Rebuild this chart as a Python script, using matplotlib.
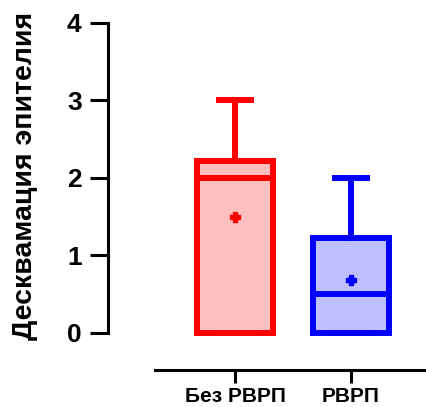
import matplotlib
matplotlib.use("Agg")
import matplotlib.pyplot as plt

categories = ["Без РВРП", "РВРП"]
whislo = [0.0, 0.0]
q1 = [0.0, 0.0]
med = [2.0, 0.5]
q3 = [2.22, 1.22]
whishi = [3.0, 2.0]
means = [1.5, 0.68]
edge_colors = ["#ff0000", "#0000ff"]
fill_colors = ["#ffbfbf", "#bfbfff"]
yticks = [0, 1, 2, 3, 4]

plt.rcParams['font.family'] = ['Liberation Sans', 'DejaVu Sans']
plt.rcParams['font.weight'] = 'bold'

fig = plt.figure(figsize=(4.27, 4.07), dpi=100)
W, H = 427, 407
left_px, right_px, top_px, bottom_px = 108, 427, 23, 370
ax = fig.add_axes([left_px / W, (H - bottom_px) / H, (right_px - left_px) / W, (bottom_px - top_px) / H])

positions = [1, 2]
for i in range(2):
    stats = [dict(whislo=whislo[i], q1=q1[i], med=med[i], q3=q3[i], whishi=whishi[i],
                  mean=means[i], fliers=[], label=categories[i])]
    c = edge_colors[i]
    ax.bxp(stats, positions=[positions[i]], widths=0.66, patch_artist=True,
           showmeans=True, showfliers=False,
           boxprops=dict(facecolor=fill_colors[i], edgecolor=c, linewidth=4.3),
           medianprops=dict(color=c, linewidth=4.3, solid_capstyle='butt'),
           whiskerprops=dict(color=c, linewidth=4.3),
           capprops=dict(color=c, linewidth=4.3, solid_capstyle='butt'),
           capwidths=0.32,
           meanprops=dict(marker='P', markerfacecolor=c, markeredgecolor=c, markersize=7))

ax.set_xlim(-0.095, 2.655)
ax.set_ylim(-0.48, 4.0)
ax.spines['top'].set_visible(False)
ax.spines['right'].set_visible(False)
ax.spines['left'].set_bounds(0, 4)
ax.spines['bottom'].set_bounds(0.31, 2.655)
ax.spines['left'].set_linewidth(2.2)
ax.spines['bottom'].set_linewidth(2.2)
ax.set_yticks(yticks)
ax.set_yticklabels([str(t) for t in yticks], fontsize=19, fontweight='bold')
ax.set_xticks(positions)
ax.set_xticklabels(categories, fontsize=15, fontweight='bold')
ax.tick_params(axis='y', length=13, width=2.2, pad=6)
ax.tick_params(axis='x', length=9, width=2.2, pad=3)
ax.set_ylabel("Десквамация эпителия", fontsize=20.5, fontweight='bold')
ax.yaxis.set_label_coords(-0.218, 0.56)
for sp in ax.spines.values():
    sp.set_clip_on(False)

fig.savefig("out.png", dpi=100)
